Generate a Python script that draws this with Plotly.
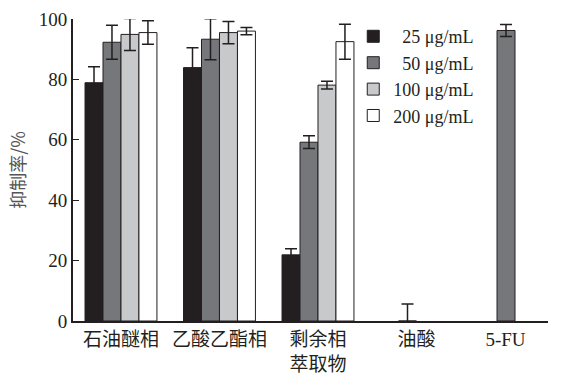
import plotly.graph_objects as go

categories = ["石油醚相", "乙酸乙酯相", "剩余相<br>萃取物", "油酸",
              "<span style='font-family:Liberation Serif'>5-FU\u2002\u2002</span>"]
series_names = ["\u200725 μg/mL", "\u200750 μg/mL", "100 μg/mL", "200 μg/mL"]
values_25 = [78.9, 83.9, 21.9, None, None]
errors_25 = [5.3, 6.6, 2.0, 0, 0]
values_50 = [92.3, 93.3, 59.2, 0, 96.2]
errors_50 = [5.6, 6.8, 2.1, 5.6, 2.0]
values_100 = [94.9, 95.5, 78.1, None, None]
errors_100 = [5.3, 3.7, 1.3, 0, 0]
values_200 = [95.5, 96.0, 92.5, None, None]
errors_200 = [3.9, 1.2, 5.8, 0, 0]
y_ticks = [0, 20, 40, 60, 80, 100]

colors = ["#231f20", "#76777b", "#c8c9cb", "#ffffff"]
vals = [values_25, values_50, values_100, values_200]
errs = [errors_25, errors_50, errors_100, errors_200]

x_idx = list(range(len(categories)))
fig = go.Figure()
for name, v, e, c in zip(series_names, vals, errs, colors):
    fig.add_trace(go.Bar(
        x=x_idx, y=v, name=name,
        marker=dict(color=c, line=dict(color="#231f20", width=1)),
        error_y=dict(type="data", array=e, visible=True, color="#231f20",
                     thickness=1.5, width=6),
    ))

serif = "Liberation Serif"
cjk = "Noto Sans CJK SC"
fig.update_layout(
    width=562, height=379,
    margin=dict(l=73, r=14, t=19, b=58),
    barmode="group", bargap=0.27, bargroupgap=0,
    plot_bgcolor="white", paper_bgcolor="white",
    font=dict(family=serif, size=18, color="#231f20"),
    showlegend=True,
    legend=dict(x=0.59, y=1.003, xanchor="left", yanchor="top",
                bgcolor="rgba(0,0,0,0)", font=dict(family=serif, size=18, color="#231f20"),
                itemwidth=30, tracegroupgap=0),
    xaxis=dict(
        range=[-0.487, 4.335],
        tickmode="array", tickvals=x_idx, ticktext=categories,
        tickfont=dict(family=cjk, size=19, color="#231f20"),
        showline=True, linecolor="#231f20", linewidth=2,
        ticks="", showgrid=False, zeroline=False, automargin=False,
    ),
    yaxis=dict(
        range=[0, 100], tickmode="array", tickvals=y_ticks,
        ticks="inside", ticklen=6, tickcolor="#231f20", tickwidth=1,
        showline=True, linecolor="#231f20", linewidth=2,
        showgrid=False, zeroline=False, automargin=False,
        tickfont=dict(family=serif, size=19, color="#231f20"),
        title=dict(text="抑制率/%", font=dict(family=cjk, size=18, color="#555555"), standoff=8),
    ),
)
fig.write_html("out.html", config={"displayModeBar": False},
               post_script="document.body.style.margin='0';document.body.style.padding='0';")
